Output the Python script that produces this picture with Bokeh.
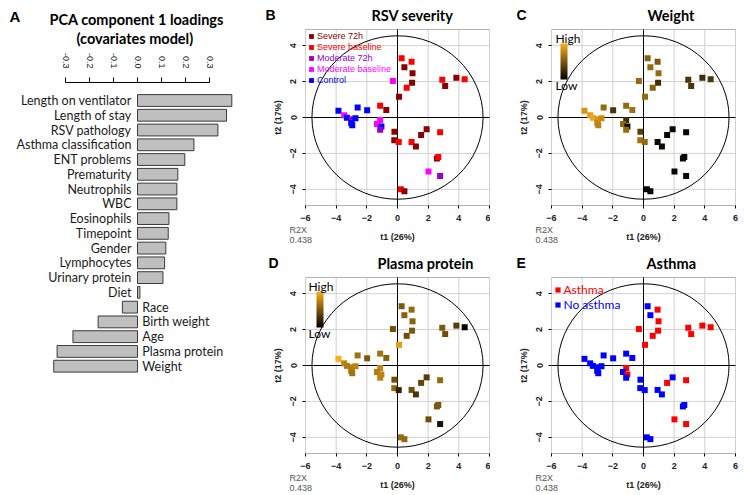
import math
from bokeh.plotting import figure
from bokeh.models import (Range1d, FixedTicker, NumeralTickFormatter, Label, Legend, BoxAnnotation,
                          LegendItem, ColumnDataSource, LinearColorMapper, ColorBar)
from bokeh.transform import factor_cmap
from bokeh.layouts import row, column
from bokeh.core.properties import value
from bokeh.embed import file_html
from bokeh.resources import INLINE

# ---------------- Panel A data ----------------
loading_vars = ["Length on ventilator", "Length of stay", "RSV pathology", "Asthma classification",
                "ENT problems", "Prematurity", "Neutrophils", "WBC", "Eosinophils", "Timepoint",
                "Gender", "Lymphocytes", "Urinary protein", "Diet", "Race", "Birth weight", "Age",
                "Plasma protein", "Weight"]
loading_vals = [0.393, 0.371, 0.335, 0.235, 0.197, 0.168, 0.164, 0.164, 0.131, 0.128,
                0.118, 0.113, 0.106, 0.010, -0.063, -0.164, -0.269, -0.335, -0.349]
loading_ticks = [-0.3, -0.2, -0.1, 0.0, 0.1, 0.2, 0.3]

# ---------------- Score plot data ----------------
t1 = [-3.85, -3.48, -3.30, -2.98, -2.74, -3.02, -2.95, -2.60, -1.98,
      -1.13, -0.73, -1.13, -1.34, -1.05, -1.13,
      -0.30, 0.27, 0.92, 0.45, 0.98, 0.95, 0.60, 0.10, 2.92, 3.11, 3.84, 4.38,
      -0.20, -0.21, 0.08, 0.92, 1.20, 1.54, 1.90, 2.78, 2.57, 2.66, 2.02, 2.78, 0.22, 0.45]
t2 = [0.37, 0.12, -0.02, -0.10, -0.04, -0.30, -0.43, 0.56, 0.40,
      0.66, 0.42, -0.14, -0.36, -0.50, -0.68,
      2.03, 3.30, 3.11, 2.80, 2.46, 1.94, 1.65, 1.15, 2.10, 1.75, 2.22, 2.13,
      -0.79, -1.26, -1.37, -1.36, -1.61, -0.97, -0.66, -0.82, -2.28, -2.20, -3.00, -3.26, -4.00, -4.10]
severity = ["Control", "Moderate baseline", "Control", "Moderate 72h", "Control", "Control", "Control",
            "Control", "Control",
            "Severe baseline", "Severe 72h", "Moderate baseline", "Moderate baseline", "Control", "Moderate 72h",
            "Moderate baseline", "Severe baseline", "Severe baseline", "Severe 72h", "Severe 72h", "Severe 72h",
            "Severe baseline", "Severe 72h", "Severe baseline", "Severe 72h", "Severe 72h", "Severe baseline",
            "Severe 72h", "Severe 72h", "Severe baseline", "Severe baseline", "Severe 72h", "Severe 72h",
            "Severe 72h", "Severe baseline", "Severe 72h", "Severe baseline", "Moderate baseline",
            "Moderate 72h", "Severe baseline", "Severe 72h"]
asthma = ["No asthma"] * 11 + ["Asthma", "No asthma", "Asthma", "No asthma"] + \
         ["Asthma", "No asthma", "Asthma", "No asthma", "Asthma", "Asthma", "Asthma", "Asthma",
          "Asthma", "Asthma", "Asthma", "Asthma",
          "No asthma", "No asthma", "No asthma", "No asthma", "No asthma", "Asthma", "No asthma",
          "Asthma", "No asthma", "No asthma", "Asthma", "Asthma", "No asthma", "No asthma"]
weight = [0.85, 0.90, 0.95, 0.85, 0.80, 0.80, 0.75, 0.60, 0.30,
          0.60, 0.65, 0.25, 0.60, 0.05, 0.60,
          0.60, 0.55, 0.50, 0.60, 0.60, 0.25, 0.55, 0.60, 0.30, 0.30, 0.25, 0.30,
          0.35, 0.65, 0.60, 0.05, 0.03, 0.04, 0.04, 0.03, 0.05, 0.05, 0.04, 0.05, 0.03, 0.04]
plasma = [1.00, 0.75, 0.70, 0.70, 0.75, 0.70, 0.65, 0.65, 0.50,
          0.65, 0.55, 0.75, 0.70, 0.75, 0.75,
          0.45, 0.50, 0.60, 0.55, 0.55, 0.50, 0.45, 0.90, 0.50, 0.45, 0.35, 0.00,
          0.45, 0.60, 0.20, 0.45, 0.30, 0.40, 0.35, 0.60, 0.50, 0.50, 0.45, 0.10, 0.60, 0.60]

severity_groups = ["Severe 72h", "Severe baseline", "Moderate 72h", "Moderate baseline", "Control"]
severity_colors = ["#8B0000", "#FF0000", "#9400D3", "#FF00FF", "#0000FF"]
asthma_groups = ["Asthma", "No asthma"]
asthma_colors = ["#FF0000", "#0000FF"]
x_ticks = [-6, -4, -2, 0, 2, 4, 6]
y_ticks = [-4, -2, 0, 2, 4]
x_lim = (-6, 6)
y_lim = (-4.9, 4.9)
ellipse_rx, ellipse_ry = 5.58, 4.55

# black -> gold gradient palette (Low -> High)
gold = (250, 175, 25)
grad_palette = ["#%02x%02x%02x" % tuple(int(round(c * i / 255)) for c in gold) for i in range(256)]

TITLE_FONT = "Lato"
AX_FONT = "Liberation Sans"


def lab(p, x, y, text, font, size, bold=False, color="#000000"):
    p.add_layout(Label(x=x, y=y, x_units="screen", y_units="screen", text=text,
                       text_font=font, text_font_size=size,
                       text_font_style="bold" if bold else "normal",
                       text_align="left", text_baseline="middle", text_color=color))


# ---------------- Panel A ----------------
A_W, A_H = 240, 495
A_zero, A_unit = 137, 240.0          # px of loading 0, px per 1.0 loading
A_row0, A_row = 100, 14.76           # px of first row centre, px per row
srcA = ColumnDataSource(dict(
    name=loading_vars, val=loading_vals,
    y=[-i for i in range(len(loading_vars))],
    lx=[-0.025 if v >= 0 else 0.02 for v in loading_vals],
    align=["right" if v >= 0 else "left" for v in loading_vals]))

pa = figure(width=A_W, height=A_H, output_backend="svg", toolbar_location=None,
            x_range=Range1d(-A_zero / A_unit, (A_W - A_zero) / A_unit),
            y_range=Range1d(-(A_H - A_row0) / A_row, A_row0 / A_row),
            x_axis_location="above", y_axis_location=None,
            min_border_left=0, min_border_right=0, min_border_top=0, min_border_bottom=0)
pa.outline_line_color = None
pa.grid.visible = False
pa.hbar(y="y", left=0, right="val", height=0.8, source=srcA,
        fill_color="#BFBFBF", line_color="#3A3A3A", line_width=1)
pa.text(x="lx", y="y", text="name", text_align="align", text_baseline="middle", source=srcA,
        text_font=value(TITLE_FONT), text_font_size=value("12.5px"), text_color="#1a1a1a")
ax = pa.xaxis[0]
ax.fixed_location = (A_row0 - 82) / A_row
ax.ticker = FixedTicker(ticks=loading_ticks)
ax.formatter = NumeralTickFormatter(format="0.0")
ax.bounds = (-0.3, 0.3)
ax.major_tick_out = 5
ax.major_tick_in = 0
ax.minor_tick_line_color = None
ax.major_label_orientation = -math.pi / 2
ax.major_label_standoff = 9
ax.major_label_text_font = AX_FONT
ax.major_label_text_font_size = "9px"
ax.major_label_text_color = "#222222"
ax.axis_line_color = "black"
ax.major_tick_line_color = "black"

lab(pa, 9, A_H - 16, "A", AX_FONT, "15px", bold=True)
lab(pa, 49, A_H - 18.5, "PCA component 1 loadings", TITLE_FONT, "14.5px", bold=True)
lab(pa, 76, A_H - 38.3, "(covariates model)", TITLE_FONT, "14.5px", bold=True)

# ---------------- Score panels ----------------
src = ColumnDataSource(dict(t1=t1, t2=t2, severity=severity, asthma=asthma, weight=weight, plasma=plasma))
mapper = LinearColorMapper(palette=grad_palette, low=0, high=1)
BOX_W, BOX_H = 184, 176


def score_panel(W, H, L, T, letter, title, letter_dx, title_dx):
    """W,H canvas size; L,T px offset of plot box from canvas left/top."""
    Bm = H - T - BOX_H
    ux = BOX_W / (x_lim[1] - x_lim[0])
    uy = BOX_H / (y_lim[1] - y_lim[0])
    p = figure(width=W, height=H, output_backend="svg", toolbar_location=None,
               x_range=Range1d(x_lim[0] - L / ux, x_lim[1] + (W - L - BOX_W) / ux),
               y_range=Range1d(y_lim[0] - Bm / uy, y_lim[1] + T / uy),
               min_border_left=0, min_border_right=0, min_border_top=0, min_border_bottom=0)
    p.outline_line_color = None
    p.grid.visible = False
    # grid lines at tick positions, inside the box
    p.segment(x0=x_ticks, y0=[y_lim[0]] * len(x_ticks), x1=x_ticks, y1=[y_lim[1]] * len(x_ticks),
              line_color="#D0D0D0", line_width=1)
    p.segment(x0=[x_lim[0]] * len(y_ticks), y0=y_ticks, x1=[x_lim[1]] * len(y_ticks), y1=y_ticks,
              line_color="#D0D0D0", line_width=1)
    # origin lines
    p.segment(x0=[0, x_lim[0]], y0=[y_lim[0], 0], x1=[0, x_lim[1]], y1=[y_lim[1], 0],
              line_color="black", line_width=1)
    p.ellipse(x=0, y=0, width=2 * ellipse_rx, height=2 * ellipse_ry, fill_color=None,
              line_color="black", line_width=1)
    p.add_layout(BoxAnnotation(left=x_lim[0], right=x_lim[1], bottom=y_lim[0], top=y_lim[1],
                               fill_color=None, fill_alpha=0, line_color="black", line_width=1,
                               level="underlay"))
    xa, ya = p.xaxis[0], p.yaxis[0]
    xa.fixed_location = y_lim[0]
    ya.fixed_location = x_lim[0]
    xa.bounds = x_lim
    ya.bounds = y_lim
    xa.ticker = FixedTicker(ticks=x_ticks)
    ya.ticker = FixedTicker(ticks=y_ticks)
    for a in (xa, ya):
        a.axis_line_color = None
        a.major_tick_out = 3
        a.major_tick_in = 0
        a.minor_tick_line_color = None
        a.major_tick_line_color = "black"
        a.major_label_text_font = AX_FONT
        a.major_label_text_font_size = "9px"
        a.major_label_text_font_style = "bold"
        a.major_label_text_color = "#222222"
        a.axis_label_text_font = AX_FONT
        a.axis_label_text_font_size = "9px"
        a.axis_label_text_font_style = "bold"
        a.axis_label_text_color = "#222222"
        a.major_label_standoff = 6
    ya.major_label_orientation = "vertical"
    xa.axis_label = "t1 (26%)"
    ya.axis_label = "t2 (17%)"
    xa.axis_label_standoff = 8
    ya.axis_label_standoff = 5
    top_y = H - T
    lab(p, L + letter_dx, top_y + 14.5, letter, AX_FONT, "14px", bold=True)
    lab(p, L + title_dx, top_y + 14.5, title, TITLE_FONT, "14.5px", bold=True)
    lab(p, L - 16, Bm - 24, "R2X", AX_FONT, "9px", color="#555555")
    lab(p, L - 16, Bm - 34, "0.438", AX_FONT, "9px", color="#555555")
    return p


def add_gradient(p, H, L, T, bar_dx, text_dx):
    top_y = H - T
    p.add_layout(ColorBar(color_mapper=mapper, location=(L + bar_dx, top_y - 14 - 36), width=7, height=36,
                          padding=0, ticker=FixedTicker(ticks=[]), major_tick_line_color=None,
                          major_label_text_font_size="0px", bar_line_color=None,
                          border_line_color=None, background_fill_alpha=0))
    lab(p, L + text_dx, top_y - 8.5, "High", TITLE_FONT, "12px")
    lab(p, L + text_dx, top_y - 56, "Low", TITLE_FONT, "12px")


# B: RSV severity
pb = score_panel(250, 250, 65, 29, "B", "RSV severity", -40, 66)
rb = pb.scatter(x="t1", y="t2", source=src, marker="square", size=6, line_color=None,
                fill_color=factor_cmap("severity", palette=severity_colors, factors=severity_groups))
for k, (g, c) in enumerate(zip(severity_groups, severity_colors)):
    pb.add_layout(Legend(items=[LegendItem(label=g, renderers=[rb], index=severity.index(g))],
                         location=(65, 250 - 35.7 - 6 - 11.1 * k), padding=0, margin=0, spacing=0,
                         glyph_width=12, glyph_height=12, label_height=12, label_standoff=0,
                         label_text_color=c, label_text_font=AX_FONT, label_text_font_size="9px",
                         border_line_color=None, background_fill_alpha=0))

# C: Weight
pc = score_panel(255, 250, 61, 29, "C", "Weight", -35, 96)
pc.scatter(x="t1", y="t2", source=src, marker="square", size=6, line_color=None,
           fill_color={"field": "weight", "transform": mapper})
add_gradient(pc, 250, 61, 29, 9, 4)

# D: Plasma protein
pd_ = score_panel(250, 245, 65, 27, "D", "Plasma protein", -37, 72)
pd_.scatter(x="t1", y="t2", source=src, marker="square", size=6, line_color=None,
            fill_color={"field": "plasma", "transform": mapper})
add_gradient(pd_, 245, 65, 27, 11, 3)

# E: Asthma
pe = score_panel(255, 245, 61, 27, "E", "Asthma", -35, 95)
re_ = pe.scatter(x="t1", y="t2", source=src, marker="square", size=6, line_color=None,
                 fill_color=factor_cmap("asthma", palette=asthma_colors, factors=asthma_groups))
for k, (g, c) in enumerate(zip(asthma_groups, asthma_colors)):
    pe.add_layout(Legend(items=[LegendItem(label=g, renderers=[re_], index=asthma.index(g))],
                         location=(60.5, 245 - 39 - 7.5 - 15 * k), padding=0, margin=0, spacing=0,
                         glyph_width=13, glyph_height=15, label_height=15, label_standoff=0,
                         label_text_color=c, label_text_font=TITLE_FONT, label_text_font_size="12px",
                         border_line_color=None, background_fill_alpha=0))

layout = row(pa, column(row(pb, pc), row(pd_, pe)))
open("out.html", "w").write(file_html(layout, INLINE))
